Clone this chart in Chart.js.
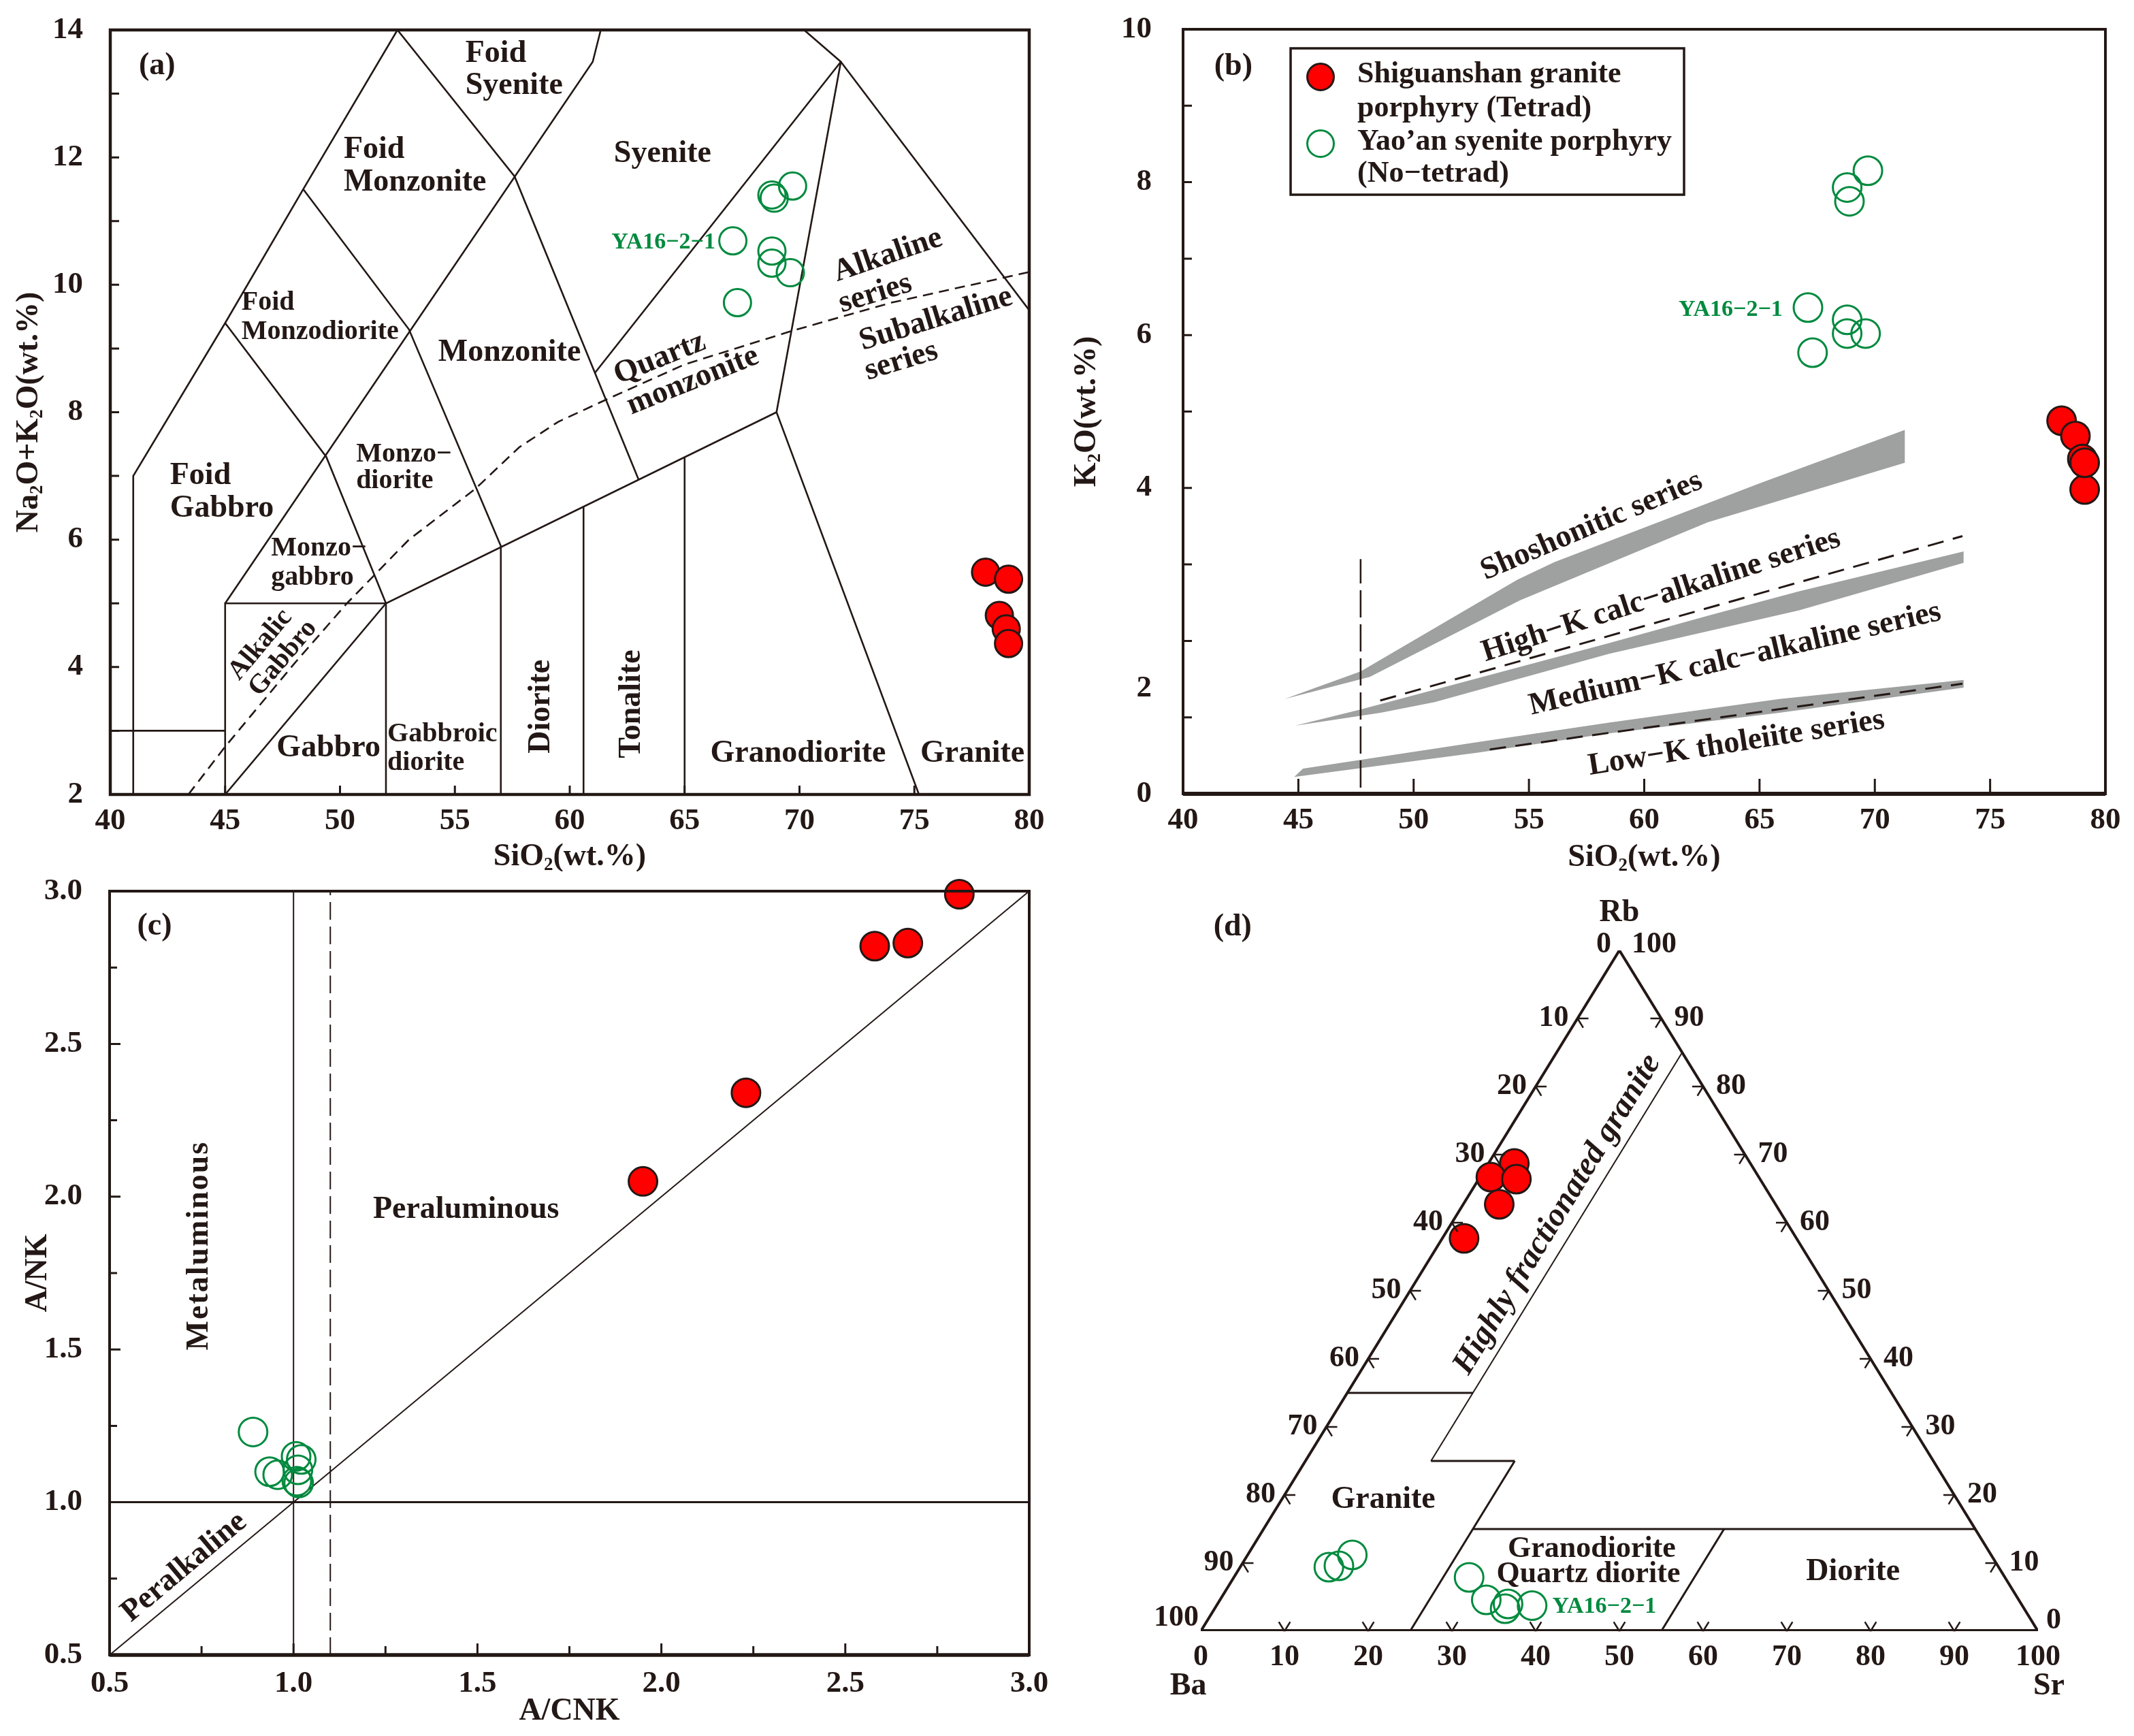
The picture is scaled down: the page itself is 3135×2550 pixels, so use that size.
<!DOCTYPE html>
<html lang="en">
<head>
<meta charset="utf-8">
<title>Shiguanshan granite porphyry vs Yao'an syenite porphyry</title>
<script src="https://cdn.jsdelivr.net/npm/chart.js@4.4.1/dist/chart.umd.min.js"></script>
<style>
  html, body { margin: 0; padding: 0; background: #fff; }
  body { position: relative; width: 3135px; height: 2550px; overflow: hidden; }
  .panel { position: absolute; }
</style>
</head>
<body>
<div class="panel" style="left:0px;top:0px;width:1560px;height:1280px"><canvas id="tas"></canvas></div>
<div class="panel" style="left:1560px;top:0px;width:1575px;height:1280px"><canvas id="k2o"></canvas></div>
<div class="panel" style="left:0px;top:1280px;width:1560px;height:1270px"><canvas id="acnk"></canvas></div>
<div class="panel" style="left:1560px;top:1280px;width:1575px;height:1270px"><canvas id="tern"></canvas></div>
<script>
// Fonts and colours
const FONT = '"Liberation Serif", "Times New Roman", Times, serif';
const INK = '#231815';
const GREEN = '#008a3e';
const RED = '#ff0000';
const GREY = '#9fa0a0';

// Sample values
// Yao'an syenite porphyry (open green) and Shiguanshan granite porphyry (red)
const greenSiO2 = [69.7, 68.8, 68.9, 67.1, 68.8, 68.8, 69.6, 67.3];
const greenAlk = [11.55, 11.41, 11.36, 10.69, 10.53, 10.34, 10.19, 9.72];
const greenK2O = [8.15, 7.93, 7.75, 6.36, 6.20, 6.02, 6.02, 5.77];
const redSiO2 = [78.1, 79.1, 78.7, 79.0, 79.1];
const redAlk = [5.49, 5.38, 4.81, 4.60, 4.37];
const redK2O = [4.88, 3.98, 4.68, 4.38, 4.33];

// (c) A/CNK vs A/NK
const greenACNK = [0.89, 0.935, 0.957, 1.007, 1.021, 1.012, 1.009, 1.014];
const greenANK = [1.23, 1.10, 1.09, 1.15, 1.14, 1.106, 1.069, 1.063];
const redACNK = [2.81, 2.58, 2.67, 2.23, 1.95];
const redANK = [2.99, 2.82, 2.83, 2.34, 2.05];

// (d) Rb - Ba - Sr ternary (percent)
const greenRb = [11.2, 9.6, 9.4, 7.9, 4.6, 3.3, 4.0, 3.75];
const greenSr = [12.5, 11.7, 10.6, 28.1, 31.8, 34.7, 34.7, 37.7];
const redRb = [68.7, 66.7, 66.4, 62.7, 57.7];
const redSr = [3.1, 1.3, 4.5, 4.3, 2.6];

// Tick labels
const k2oTickLabels = ['0', '2', '4', '6', '8', '10'];
const k2oTickLabelAt = [0, 1.38, 4, 6, 8, 10]; // the "2" sits below its tick in the original
const ternTicks = [0, 10, 20, 30, 40, 50, 60, 70, 80, 90, 100];

// Field boundaries (a) TAS, SiO2 vs Na2O+K2O
const tasLines = [
  [[41, 2], [41, 7], [45, 9.4], [48.4, 11.5], [52.5, 14]],
  [[40, 3], [45, 3]],
  [[45, 2], [45, 5], [52, 5]],
  [[45, 2], [52, 5]],
  [[52, 2], [52, 5], [69, 8]],
  [[45, 5], [61, 13.5], [61.35, 14]],
  [[45, 9.4], [49.4, 7.3], [52, 5]],
  [[48.4, 11.5], [53, 9.3], [57, 5.9], [57, 2]],
  [[52.5, 14], [57.6, 11.7], [63, 6.94]],
  [[61.1, 8.62], [71.8, 13.5], [70.2, 14]],
  [[71.8, 13.5], [69, 8], [75.2, 2]],
  [[71.8, 13.5], [80, 9.6]],
  [[60.6, 2], [60.6, 6.52]],
  [[65, 2], [65, 7.29]]
];
const alkDivide = [[43.4, 2], [45, 2.75], [48, 4.05], [50.3, 5.0], [53, 6.0], [55.9, 6.8], [57.8, 7.45],
  [59.5, 7.85], [61.6, 8.2], [65, 8.75], [69.7, 9.28], [74, 9.72], [80, 10.2]];

// (b) series boundaries, SiO2 vs K2O
const shoBand = [[44.4, 1.24], [47.7, 1.60], [54.5, 2.80], [56.1, 3.03], [62.75, 3.80], [65, 4.06], [71.3, 4.76],
  [71.3, 4.33], [62.75, 3.55], [54.6, 2.53], [48.1, 1.53]];
const medBand = [[44.85, 0.89], [47.66, 1.10], [58.46, 1.97], [62.89, 2.34], [66.72, 2.65], [73.85, 3.17],
  [73.85, 3.02], [66.72, 2.40], [58.46, 1.83], [50.92, 1.20], [48.56, 1.06]];
const lowBand = [[44.82, 0.22], [45.2, 0.33], [52.84, 0.68], [58.46, 0.93], [65.86, 1.24], [73.85, 1.49],
  [73.85, 1.39], [65.86, 1.06], [58.46, 0.79], [52.84, 0.54]];
const hkDash = [[48.55, 1.22], [73.8, 3.37]];
const lkDash = [[53.3, 0.58], [73.8, 1.44]];
const basicCut = [[47.7, 0.08], [47.7, 3.07]];

// (d) field boundaries as [Sr, Rb]
const ternFields = [
  [[0, 35], [15, 35]],
  [[15, 25], [25, 25]],
  [[25, 0], [25, 25]],
  [[25, 15], [85, 15]],
  [[55, 0], [55, 15]]
];
const hfgLine = [[15, 25], [15, 85]];

// Text labels: [text, x, y, options] in data coordinates
const labelsA = [
  ['(a)', 42.04, 13.43],
  ['Foid', 55.46, 13.63, { align: 'left' }],
  ['Syenite', 55.46, 13.12, { align: 'left' }],
  ['Foid', 50.16, 12.12, { align: 'left' }],
  ['Monzonite', 50.16, 11.61, { align: 'left' }],
  ['Syenite', 64.04, 12.05],
  ['Foid', 45.71, 9.72, { align: 'left', size: 40 }],
  ['Monzodiorite', 45.71, 9.26, { align: 'left', size: 40 }],
  ['Monzonite', 57.38, 8.93],
  ['Quartz', 63.92, 8.84, { rot: -22 }],
  ['monzonite', 65.36, 8.49, { rot: -22 }],
  ['Alkaline', 73.85, 10.46, { rot: -19 }],
  ['series', 73.3, 9.86, { rot: -17 }],
  ['Subalkaline', 75.94, 9.46, { rot: -17 }],
  ['series', 74.43, 8.80, { rot: -17 }],
  ['Monzo\u2212', 50.7, 7.34, { align: 'left', size: 40 }],
  ['diorite', 50.7, 6.92, { align: 'left', size: 40 }],
  ['Foid', 42.6, 7.0, { align: 'left' }],
  ['Gabbro', 42.6, 6.49, { align: 'left' }],
  ['Monzo\u2212', 47.0, 5.86, { align: 'left', size: 40 }],
  ['gabbro', 47.0, 5.40, { align: 'left', size: 40 }],
  ['Alkalic', 46.54, 4.35, { rot: -50, size: 40 }],
  ['Gabbro', 47.52, 4.14, { rot: -50, size: 40 }],
  ['Gabbro', 49.5, 2.73],
  ['Gabbroic', 52.06, 2.94, { align: 'left', size: 40 }],
  ['diorite', 52.06, 2.50, { align: 'left', size: 40 }],
  ['Diorite', 58.75, 3.38, { rot: -90 }],
  ['Tonalite', 62.7, 3.42, { rot: -90 }],
  ['Granodiorite', 69.94, 2.64],
  ['Granite', 77.53, 2.64],
  ['YA16\u22122\u22121', 66.34, 10.66, { align: 'right', size: 34, color: GREEN }]
];
const labelsB = [
  ['(b)', 42.18, 9.51],
  ['YA16\u22122\u22121', 66.0, 6.33, { align: 'right', size: 34, color: GREEN }],
  ['Shoshonitic series', 57.72, 3.50, { rot: -23 }],
  ['High\u2212K calc\u2212alkaline series', 60.74, 2.59, { rot: -18 }],
  ['Medium\u2212K calc\u2212alkaline series', 63.94, 1.76, { rot: -13 }],
  ['Low\u2212K tholeiite series', 64.0, 0.66, { rot: -9 }]
];
const labelsC = [
  ['(c)', 0.622, 2.883],
  ['Metaluminous', 0.745, 1.84, { rot: -90, spacing: 2 }],
  ['Peraluminous', 1.469, 1.958],
  ['Peralkaline', 0.703, 0.787, { rot: -40 }]
];
// (d) labels in plot units (x = Sr + Rb/2, y = Rb)
const labelsD = [
  ['(d)', 3.8, 103.4],
  ['Rb', 50, 105.5],
  ['Ba', -1.5, -8.1],
  ['Sr', 101.3, -8.1],
  ['Highly fractionated granite', 42.6, 61.2, { rot: -58.5, style: 'italic bold', size: 48 }],
  ['Granite', 21.8, 19.3],
  ['Granodiorite', 46.7, 12.05, { size: 44 }],
  ['Quartz diorite', 46.3, 8.3, { size: 44 }],
  ['Diorite', 77.9, 8.7],
  ['YA16\u22122\u22121', 42.0, 3.6, { align: 'left', size: 34, color: GREEN }]
];

// Helpers
function range(a, b, s) {
  const r = [];
  for (let v = a; v <= b + 1e-9; v += s) r.push(+v.toFixed(3));
  return r;
}
function xy(xs, ys) { return xs.map((x, i) => ({ x: x, y: ys[i] })); }
function path(arr) { return arr.map(p => ({ x: p[0], y: p[1] })); }
function tern(sr, rb) { return { x: sr + rb / 2, y: rb }; }

function points(data, fill, stroke, r) {
  return {
    data: data, showLine: false, pointRadius: r, pointBorderWidth: 3,
    pointBackgroundColor: fill, pointBorderColor: stroke, clip: false, order: 0
  };
}
function line(data, width, dash) {
  return {
    data: data, showLine: true, pointRadius: 0, borderColor: INK, borderWidth: width,
    borderDash: dash || [], fill: false, order: 1
  };
}

function text(ctx, t, x, y, o) {
  o = o || {};
  ctx.save();
  ctx.translate(x, y);
  if (o.rot) ctx.rotate(o.rot * Math.PI / 180);
  ctx.font = (o.style || 'bold') + ' ' + (o.size || 46) + 'px ' + FONT;
  ctx.fillStyle = o.color || INK;
  ctx.textAlign = o.align || 'center';
  ctx.textBaseline = 'middle';
  if (o.spacing) ctx.letterSpacing = o.spacing + 'px';
  ctx.fillText(t, 0, 0);
  ctx.restore();
}

// text with subscripts: parts = [[string, isSub], ...]
function rich(ctx, parts, x, y, size, rot) {
  const sub = Math.round(size * 0.58);
  ctx.save();
  ctx.translate(x, y);
  ctx.rotate(rot * Math.PI / 180);
  ctx.fillStyle = INK;
  ctx.textAlign = 'left';
  ctx.textBaseline = 'alphabetic';
  let w = 0;
  parts.forEach(p => { ctx.font = 'bold ' + (p[1] ? sub : size) + 'px ' + FONT; w += ctx.measureText(p[0]).width; });
  let cx = -w / 2;
  const base = size * 0.33;
  parts.forEach(p => {
    ctx.font = 'bold ' + (p[1] ? sub : size) + 'px ' + FONT;
    ctx.fillText(p[0], cx, p[1] ? base + size * 0.14 : base);
    cx += ctx.measureText(p[0]).width;
  });
  ctx.restore();
}

function frame(chart, w, wb) {
  const { ctx, chartArea: a } = chart;
  ctx.save();
  ctx.strokeStyle = INK;
  ctx.lineWidth = w;
  ctx.strokeRect(a.left, a.top, a.right - a.left, a.bottom - a.top);
  if (wb) {
    ctx.lineWidth = wb;
    ctx.beginPath(); ctx.moveTo(a.left, a.bottom); ctx.lineTo(a.right, a.bottom); ctx.stroke();
  }
  ctx.restore();
}

// inward tick marks, xt / yt = [[value, length], ...]
function ticks(chart, xt, yt) {
  const { ctx, chartArea: a, scales } = chart;
  ctx.save();
  ctx.strokeStyle = INK;
  ctx.lineWidth = 3;
  ctx.beginPath();
  xt.forEach(t => { const p = scales.x.getPixelForValue(t[0]); ctx.moveTo(p, a.bottom); ctx.lineTo(p, a.bottom - t[1]); });
  yt.forEach(t => { const p = scales.y.getPixelForValue(t[0]); ctx.moveTo(a.left, p); ctx.lineTo(a.left + t[1], p); });
  ctx.stroke();
  ctx.restore();
}

function drawLabels(chart, list) {
  const sx = chart.scales.x, sy = chart.scales.y;
  list.forEach(l => text(chart.ctx, l[0], sx.getPixelForValue(l[1]), sy.getPixelForValue(l[2]), l[3]));
}

function fillPoly(chart, arr, color) {
  const { ctx, scales } = chart;
  ctx.save();
  ctx.fillStyle = color;
  ctx.beginPath();
  arr.forEach((p, i) => {
    const x = scales.x.getPixelForValue(p[0]), y = scales.y.getPixelForValue(p[1]);
    if (i === 0) ctx.moveTo(x, y); else ctx.lineTo(x, y);
  });
  ctx.closePath();
  ctx.fill();
  ctx.restore();
}

function marker(ctx, x, y, r, fill, stroke) {
  ctx.save();
  ctx.beginPath();
  ctx.arc(x, y, r, 0, Math.PI * 2);
  if (fill) { ctx.fillStyle = fill; ctx.fill(); }
  ctx.lineWidth = 3;
  ctx.strokeStyle = stroke;
  ctx.stroke();
  ctx.restore();
}

const tickFont = { family: FONT, size: 45, weight: 'bold' };

// fixed-size axis; label overhang must not push the plot area around
function linAxis(min, max, step, pad, fit, horiz, fmt, show) {
  const ticksOpt = { stepSize: step, font: tickFont, color: INK, padding: pad, maxRotation: 0, autoSkip: false, display: show !== false };
  if (fmt) ticksOpt.callback = fmt;
  return {
    type: 'linear', min: min, max: max,
    ticks: ticksOpt,
    grid: { display: false, drawTicks: false },
    border: { display: false },
    afterFit: s => {
      if (horiz) s.height = fit; else s.width = fit;
      s.paddingTop = 0; s.paddingBottom = 0; s.paddingLeft = 0; s.paddingRight = 0;
    }
  };
}

function baseOptions(scales, padding) {
  return {
    responsive: true, maintainAspectRatio: false, animation: false, events: [],
    layout: { padding: padding },
    plugins: { legend: { display: false }, tooltip: { enabled: false } },
    scales: scales
  };
}

// (a) TAS
new Chart(document.getElementById('tas'), {
  type: 'scatter',
  data: {
    datasets: [
      points(xy(redSiO2, redAlk), RED, INK, 20),
      points(xy(greenSiO2, greenAlk), 'rgba(0,0,0,0)', GREEN, 20),
      line(path(alkDivide), 2.6, [15, 9])
    ].concat(tasLines.map(l => line(path(l), 2.6)))
  },
  options: baseOptions({
    x: linAxis(40, 80, 5, 12, 113, true),
    y: linAxis(2, 14, 2, 40, 162, false)
  }, { left: 0, right: 48, top: 44, bottom: 0 }),
  plugins: [{
    id: 'decorA',
    afterDatasetsDraw(chart) {
      const a = chart.chartArea;
      frame(chart, 4.5);
      ticks(chart, range(45, 75, 5).map(v => [v, 13]), range(3, 13, 1).map(v => [v, 13]));
      drawLabels(chart, labelsA);
      rich(chart.ctx, [['SiO'], ['2', 1], ['(wt.%)']], (a.left + a.right) / 2, a.bottom + 89, 46, 0);
      rich(chart.ctx, [['Na'], ['2', 1], ['O+K'], ['2', 1], ['O(wt.%)']], a.left - 122, (a.top + a.bottom) / 2, 46, -90);
    }
  }]
});

// (b) SiO2 vs K2O
new Chart(document.getElementById('k2o'), {
  type: 'scatter',
  data: {
    datasets: [
      points(xy(redSiO2, redK2O), RED, INK, 21),
      points(xy(greenSiO2, greenK2O), 'rgba(0,0,0,0)', GREEN, 21),
      line(path(hkDash), 3, [24, 14]),
      line(path(lkDash), 3, [24, 14]),
      line(path(basicCut), 2.5, [40, 10])
    ]
  },
  options: baseOptions({
    x: linAxis(40, 80, 5, 12, 114, true),
    y: linAxis(0, 10, 1, 46, 178, false, null, false)
  }, { left: 0, right: 42, top: 43, bottom: 0 }),
  plugins: [{
    id: 'decorB',
    beforeDatasetsDraw(chart) {
      [shoBand, medBand, lowBand].forEach(b => fillPoly(chart, b, GREY));
    },
    afterDatasetsDraw(chart) {
      const { ctx, chartArea: a, scales } = chart;
      frame(chart, 4, 6);
      ticks(chart, range(45, 75, 5).map(v => [v, 22]), range(1, 9, 1).map(v => [v, 13]));
      k2oTickLabels.forEach((t, i) => text(ctx, t, a.left - 46, scales.y.getPixelForValue(k2oTickLabelAt[i]), { align: 'right', size: 45 }));
      drawLabels(chart, labelsB);
      // legend
      ctx.save();
      ctx.strokeStyle = INK;
      ctx.lineWidth = 3.5;
      ctx.strokeRect(a.left + 158, a.top + 28, 578, 215);
      ctx.restore();
      marker(ctx, a.left + 202, a.top + 70, 19.5, RED, INK);
      marker(ctx, a.left + 202, a.top + 168, 19.5, null, GREEN);
      const lx = a.left + 256;
      text(ctx, 'Shiguanshan granite', lx, a.top + 67, { align: 'left', size: 44 });
      text(ctx, 'porphyry (Tetrad)', lx, a.top + 117, { align: 'left', size: 44 });
      text(ctx, 'Yao\u2019an syenite porphyry', lx, a.top + 166, { align: 'left', size: 44 });
      text(ctx, '(No\u2212tetrad)', lx, a.top + 213, { align: 'left', size: 44 });
      rich(ctx, [['SiO'], ['2', 1], ['(wt.%)']], (a.left + a.right) / 2, a.bottom + 91, 46, 0);
      rich(ctx, [['K'], ['2', 1], ['O(wt.%)']], a.left - 144, (a.top + a.bottom) / 2, 46, -90);
    }
  }]
});

// (c) A/CNK vs A/NK
new Chart(document.getElementById('acnk'), {
  type: 'scatter',
  data: {
    datasets: [
      points(xy(redACNK, redANK), RED, INK, 21),
      points(xy(greenACNK, greenANK), 'rgba(0,0,0,0)', GREEN, 21),
      line(path([[1, 0.5], [1, 3]]), 2),
      line(path([[1.1, 0.5], [1.1, 3]]), 2, [26, 10]),
      line(path([[0.5, 1], [3, 1]]), 3),
      line(path([[0.5, 0.5], [3, 3]]), 2)
    ]
  },
  options: baseOptions({
    x: linAxis(0.5, 3, 0.5, 15, 119, true, v => v.toFixed(1)),
    y: linAxis(0.5, 3, 0.5, 40, 161, false, v => v.toFixed(1))
  }, { left: 0, right: 48, top: 29, bottom: 0 }),
  plugins: [{
    id: 'decorC',
    afterDatasetsDraw(chart) {
      const { ctx, chartArea: a } = chart;
      frame(chart, 4, 5.5);
      const xt = range(0.75, 2.75, 0.25).map(v => [v, Math.abs(v * 2 - Math.round(v * 2)) < 1e-6 ? 17 : 13]);
      const yt = range(0.75, 2.75, 0.25).map(v => [v, Math.abs(v * 2 - Math.round(v * 2)) < 1e-6 ? 16 : 11]);
      ticks(chart, xt, yt);
      drawLabels(chart, labelsC);
      text(ctx, 'A/CNK', (a.left + a.right) / 2, a.bottom + 83, { size: 46 });
      text(ctx, 'A/NK', a.left - 105, (a.top + a.bottom) / 2, { size: 46, rot: -90 });
    }
  }]
});

// (d) Rb-Ba-Sr ternary
new Chart(document.getElementById('tern'), {
  type: 'scatter',
  data: {
    datasets: [
      points(redSr.map((s, i) => tern(s, redRb[i])), RED, INK, 21),
      points(greenSr.map((s, i) => tern(s, greenRb[i])), 'rgba(0,0,0,0)', GREEN, 21),
      line([tern(0, 0), tern(0, 100), tern(100, 0)], 4),
      line([tern(0, 0), tern(100, 0)], 6),
      line(hfgLine.map(p => tern(p[0], p[1])), 2)
    ].concat(ternFields.map(f => line(f.map(p => tern(p[0], p[1])), 3)))
  },
  options: baseOptions({
    x: { type: 'linear', min: 0, max: 100, display: false },
    y: { type: 'linear', min: 0, max: 100, display: false }
  }, { left: 204, right: 141, top: 116, bottom: 154 }),
  plugins: [{
    id: 'decorD',
    afterDatasetsDraw(chart) {
      const ctx = chart.ctx, sx = chart.scales.x, sy = chart.scales.y;
      const P = (sr, rb) => { const t = tern(sr, rb); return [sx.getPixelForValue(t.x), sy.getPixelForValue(t.y)]; };
      const B = P(0, 0), S = P(100, 0), R = P(0, 100);
      const unit = (p, q) => { const dx = q[0] - p[0], dy = q[1] - p[1], l = Math.hypot(dx, dy); return [dx / l, dy / l]; };
      const upL = unit(B, R), upR = unit(S, R);
      const L = 16;
      ctx.save();
      ctx.strokeStyle = INK;
      ctx.lineWidth = 2.5;
      ctx.beginPath();
      const arm = (p, d) => { ctx.moveTo(p[0], p[1]); ctx.lineTo(p[0] + d[0] * L, p[1] + d[1] * L); };
      ternTicks.slice(1, -1).forEach(v => {
        const l = P(0, 100 - v); arm(l, [1, 0]); arm(l, [-upR[0], -upR[1]]);
        const r = P(100 - v, v); arm(r, [-1, 0]); arm(r, [-upL[0], -upL[1]]);
        const b = P(v, 0); arm(b, upL); arm(b, upR);
      });
      ctx.stroke();
      ctx.restore();
      ternTicks.forEach(v => {
        const b = P(v, 0);
        text(ctx, String(v), b[0], b[1] + 39, { size: 44 });
        if (v > 0 && v < 100) {
          const l = P(0, 100 - v);
          text(ctx, String(v), l[0] - 13, l[1], { size: 44, align: 'right' });
          const r = P(100 - v, v);
          text(ctx, String(v), r[0] + 19, r[1], { size: 44, align: 'left' });
        }
      });
      text(ctx, '0', R[0] - 12, R[1] - 8, { align: 'right', size: 44 });
      text(ctx, '100', R[0] + 18, R[1] - 8, { align: 'left', size: 44 });
      text(ctx, '100', B[0] - 3, B[1] - 19, { align: 'right', size: 44 });
      text(ctx, '0', S[0] + 12, S[1] - 15, { align: 'left', size: 44 });
      drawLabels(chart, labelsD);
    }
  }]
});
</script>
</body>
</html>
